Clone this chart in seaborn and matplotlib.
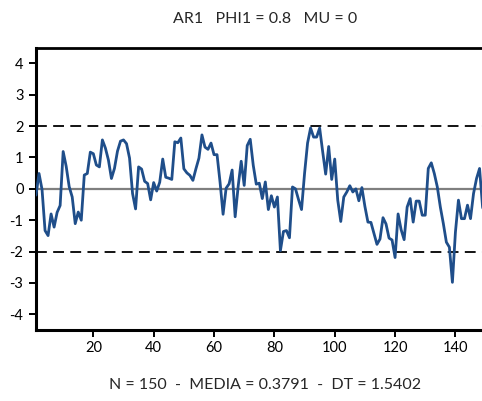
import numpy as np
import pandas as pd
import matplotlib
matplotlib.use("Agg")
import matplotlib.pyplot as plt
import seaborn as sns

# Simulated AR(1) series, observations 1..150
obs = list(range(1, 151))
values = [
    -0.20, 0.49, -0.02, -1.33, -1.49, -0.80, -1.22, -0.75, -0.53, 1.19,
    0.72, 0.07, -0.26, -1.11, -0.74, -1.00, 0.44, 0.49, 1.17, 1.12,
    0.76, 0.70, 1.56, 1.30, 0.92, 0.33, 0.65, 1.20, 1.52, 1.56,
    1.44, 0.98, -0.15, -0.64, 0.70, 0.63, 0.24, 0.17, -0.35, 0.20,
    -0.07, 0.21, 0.95, 0.37, 0.34, 0.30, 1.50, 1.47, 1.62, 0.64,
    0.51, 0.43, 0.27, 0.64, 0.98, 1.72, 1.33, 1.26, 1.46, 1.09,
    1.09, 0.21, -0.81, 0.02, 0.16, 0.60, -0.89, 0.08, 0.88, 0.11,
    1.38, 1.58, 0.75, 0.15, 0.18, -0.31, 0.22, -0.66, -0.22, -0.58,
    -0.26, -1.97, -1.36, -1.33, -1.56, 0.06, 0.00, -0.34, -0.66, 0.49,
    1.46, 1.94, 1.65, 1.65, 1.94, 1.19, 0.47, 1.35, 0.30, 0.95,
    -0.36, -1.04, -0.26, -0.10, 0.10, -0.10, 0.00, -0.38, 0.04, -0.56,
    -1.06, -1.07, -1.42, -1.77, -1.60, -0.92, -1.12, -1.57, -1.63, -2.19,
    -0.80, -1.30, -1.62, -0.58, -0.31, -1.06, -0.39, -0.39, -0.84, -0.84,
    0.65, 0.83, 0.49, 0.06, -0.58, -1.11, -1.70, -1.86, -2.98, -1.38,
    -0.36, -0.95, -0.95, -0.52, -0.95, -0.15, 0.33, 0.65, -0.58, -0.90,
]
band_levels = [-2, 2]
x_ticks = [20, 40, 60, 80, 100, 120, 140]
y_ticks = [-4, -3, -2, -1, 0, 1, 2, 3, 4]

title_text = "AR1   PHI1 = 0.8   MU = 0"
footer_text = "N = 150  -  MEDIA = 0.3791  -  DT = 1.5402"

sns.set_style("ticks")
plt.rcParams["font.family"] = ["Lato", "DejaVu Sans"]
plt.rcParams["axes.unicode_minus"] = False

W, H = 482, 401
fig = plt.figure(figsize=(W / 100, H / 100), dpi=100)
ax = fig.add_axes([36 / W, (H - 330) / H, (485.6 - 36) / W, (330 - 47.7) / H])

df = pd.DataFrame({"obs": obs, "value": values})

ax.axhline(0, color="#7f7f7f", lw=1.6, zorder=1)
for lvl in band_levels:
    ax.axhline(lvl, color="black", lw=1.3, ls=(0, (6, 3.5)), zorder=1)

sns.lineplot(data=df, x="obs", y="value", ax=ax, color="#1F4E8A", lw=2.0, zorder=3)

ax.set_xlim(1, 150)
ax.set_ylim(-4.5, 4.5)
ax.set_xticks(x_ticks)
ax.set_yticks(y_ticks)
ax.set_xlabel("")
ax.set_ylabel("")

for side in ["left", "bottom", "top", "right"]:
    ax.spines[side].set_visible(True)
    ax.spines[side].set_color("black")
ax.spines["left"].set_linewidth(2.2)
ax.spines["bottom"].set_linewidth(2.2)
ax.spines["top"].set_linewidth(2.0)
ax.spines["right"].set_linewidth(2.0)

ax.tick_params(axis="both", direction="out", length=5, width=1.4,
               labelsize=10.5, colors="black", pad=3)
ax.tick_params(axis="y", pad=4)

fig.text(265 / W, 1 - 19 / H, title_text, ha="center", va="center", fontsize=11.5)
fig.text(265 / W, 1 - 385 / H, footer_text, ha="center", va="center", fontsize=11.5)

fig.savefig("out.png", dpi=100, facecolor="white")
